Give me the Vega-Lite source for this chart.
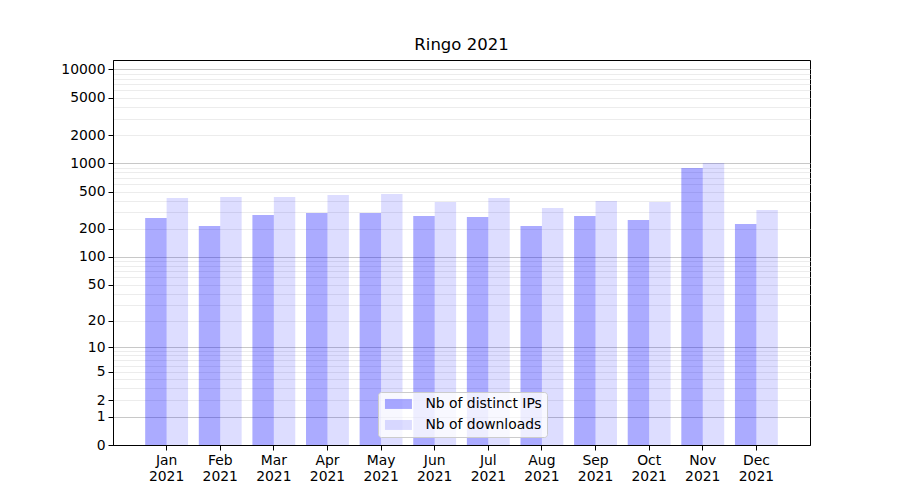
{
  "$schema": "https://vega.github.io/schema/vega-lite/v6.json",
  "autosize": "none",
  "padding": {"left": 113, "top": 60, "right": 90, "bottom": 55},
  "width": 697,
  "height": 385,
  "background": "white",
  "title": {"text": "Ringo 2021", "fontSize": 16.5, "fontWeight": "normal", "font": "DejaVu Sans", "color": "black", "offset": 7},
  "config": {
    "font": "DejaVu Sans",
    "view": {"stroke": "black", "strokeWidth": 1}
  },
  "data": {
    "values": [
      {"month": "Jan 2021", "series": "Nb of distinct IPs", "value": 261},
      {"month": "Jan 2021", "series": "Nb of downloads", "value": 426},
      {"month": "Feb 2021", "series": "Nb of distinct IPs", "value": 214},
      {"month": "Feb 2021", "series": "Nb of downloads", "value": 437},
      {"month": "Mar 2021", "series": "Nb of distinct IPs", "value": 280},
      {"month": "Mar 2021", "series": "Nb of downloads", "value": 437},
      {"month": "Apr 2021", "series": "Nb of distinct IPs", "value": 295},
      {"month": "Apr 2021", "series": "Nb of downloads", "value": 459},
      {"month": "May 2021", "series": "Nb of distinct IPs", "value": 295},
      {"month": "May 2021", "series": "Nb of downloads", "value": 470},
      {"month": "Jun 2021", "series": "Nb of distinct IPs", "value": 274},
      {"month": "Jun 2021", "series": "Nb of downloads", "value": 386},
      {"month": "Jul 2021", "series": "Nb of distinct IPs", "value": 267},
      {"month": "Jul 2021", "series": "Nb of downloads", "value": 426},
      {"month": "Aug 2021", "series": "Nb of distinct IPs", "value": 214},
      {"month": "Aug 2021", "series": "Nb of downloads", "value": 333},
      {"month": "Sep 2021", "series": "Nb of distinct IPs", "value": 274},
      {"month": "Sep 2021", "series": "Nb of downloads", "value": 396},
      {"month": "Oct 2021", "series": "Nb of distinct IPs", "value": 248},
      {"month": "Oct 2021", "series": "Nb of downloads", "value": 386},
      {"month": "Nov 2021", "series": "Nb of distinct IPs", "value": 890},
      {"month": "Nov 2021", "series": "Nb of downloads", "value": 1005},
      {"month": "Dec 2021", "series": "Nb of distinct IPs", "value": 225},
      {"month": "Dec 2021", "series": "Nb of downloads", "value": 317}
    ]
  },
  "mark": {"type": "bar"},
  "encoding": {
    "x": {
      "field": "month", "type": "nominal", "sort": null,
      "scale": {"paddingInner": 0.2, "paddingOuter": 0.6},
      "axis": {
        "title": null, "labelAngle": 0, "labelExpr": "split(datum.label, ' ')",
        "labelFontSize": 13.9, "labelColor": "black", "labelPadding": 3,
        "labelLineHeight": 16,
        "tickColor": "black", "tickSize": 5, "domainColor": "black", "grid": false
      }
    },
    "xOffset": {"field": "series", "type": "nominal", "scale": {"paddingInner": 0, "paddingOuter": 0}},
    "y": {
      "field": "value", "type": "quantitative",
      "scale": {"type": "symlog", "constant": 1, "domain": [0, 12600], "nice": false},
      "axis": {
        "title": null, "format": "d",
        "values": [0, 1, 2, 3, 4, 5, 6, 7, 8, 9, 10, 20, 30, 40, 50, 60, 70, 80, 90, 100, 200, 300, 400, 500, 600, 700, 800, 900, 1000, 2000, 3000, 4000, 5000, 6000, 7000, 8000, 9000, 10000],
        "labelExpr": "indexof([0, 1, 2, 5, 10, 20, 50, 100, 200, 500, 1000, 2000, 5000, 10000], datum.value) >= 0 ? datum.label : ''",
        "labelOverlap": false, "labelFontSize": 13.9, "labelColor": "black", "labelPadding": 3, "labelFlush": false,
        "tickColor": "black", "tickSize": 5, "domainColor": "black",
        "tickOpacity": {"condition": {"test": "indexof([0, 1, 2, 5, 10, 20, 50, 100, 200, 500, 1000, 2000, 5000, 10000], datum.value) >= 0", "value": 1}, "value": 0},
        "grid": true,
        "gridColor": {"condition": {"test": "indexof([1, 10, 100, 1000, 10000], datum.value) >= 0", "value": "#c8c8c8"}, "value": "#ececec"},
        "gridOpacity": {"condition": {"test": "datum.value === 0", "value": 0}, "value": 1}
      }
    },
    "color": {
      "field": "series", "type": "nominal",
      "scale": {"domain": ["Nb of distinct IPs", "Nb of downloads"], "range": ["rgba(0,0,255,0.33)", "rgba(0,0,255,0.135)"]},
      "legend": {
        "title": null, "orient": "none", "legendX": 265, "legendY": 332,
        "symbolType": "M-2.7,-1H2.7V1H-2.7Z", "symbolSize": 100, "symbolStrokeWidth": 0,
        "symbolOffset": 8.5,
        "labelFontSize": 13.9, "labelColor": "black", "labelOffset": 20,
        "rowPadding": 6, "padding": 5,
        "fillColor": "rgba(255,255,255,0.8)", "strokeColor": "#cccccc", "cornerRadius": 3
      }
    }
  }
}
